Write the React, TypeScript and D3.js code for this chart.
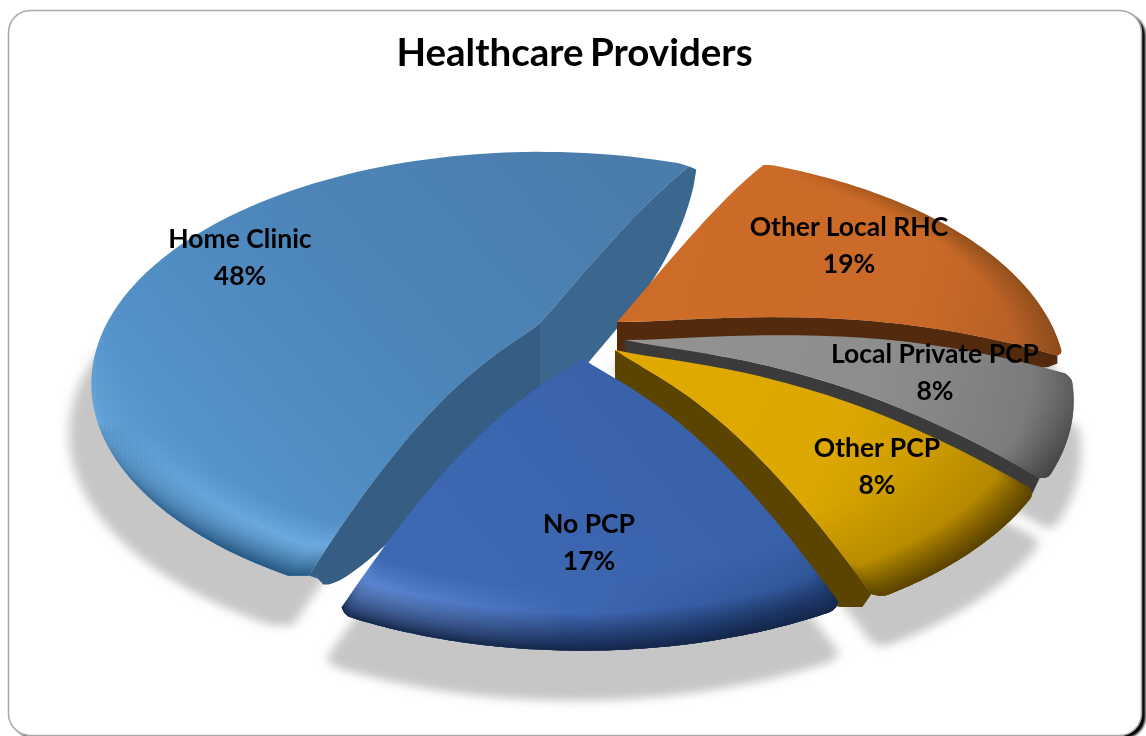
import React from "react";
import * as d3 from "d3";

// ---- data ----
const categories = ["Other Local RHC", "Local Private PCP", "Other PCP", "No PCP", "Home Clinic"];
const percentages = [19, 8, 8, 17, 48];
const chartTitle = "Healthcare Providers";

// ---- layout / style ----
const W = 1146, H = 736;
const apexes = [[617, 322], [625, 340], [615, 350], [582, 358], [540, 323]];
const labelAnchors = [[849, 236], [935, 363], [877, 457], [589, 533], [240, 248]];
const wallColors = ["#542a0f", "#3b3b3b", "#5b4300", "#000", "#3b668d"];
const wallColorAlt = "#365d83";
const drawOrder = [4, 0, 1, 2, 3];
// boundaries of the pie as laid out → as seen after the 3D view's distortion
const warp = d3.scaleLinear().domain([25, 93.4, 122.2, 151, 212.2, 385]).range([25, 99, 124, 152.5, 205.5, 385]);
const cornerNudges = [[0, 0], [0, 0], [0, 0], [0, 0], [-1.1, 0.5]];

const A = 433, B = 216, K = 0.262;
const rad = (d: number) => (d * Math.PI) / 180;
const project = (apex: number[], r: number, deg: number): [number, number] => {
  const a = rad(deg);
  const X = r * Math.sin(a), Y = r * Math.cos(a), w = 1 + K * Y;
  const bow = (19 - 13 * Math.cos(a)) * 4.83 * Math.pow(r, 1.3) * (1 - r);
  return [apex[0] + (A * X) / w, apex[1] - (B * Y) / w - bow];
};
const line = d3.line();

const arcs = d3.pie<number>().sort(null).startAngle(rad(25)).endAngle(rad(385))(percentages).map((d, i) => ({
  a0: warp((d.startAngle * 180) / Math.PI) + cornerNudges[i][0],
  a1: warp((d.endAngle * 180) / Math.PI) + cornerNudges[i][1],
}));
const angles = (a0: number, a1: number) => d3.range(0, 1.0001, 1 / 90).map((t) => a0 + (a1 - a0) * t);

// the rim curls in slightly at the two corners of a slice
const CORNER_DEG = 1.6, CORNER_R = 0.012;
const rim = (i: number, a: number) => {
  const dist = Math.min(a - arcs[i].a0, arcs[i].a1 - a);
  const t = Math.max(0, 1 - dist / CORNER_DEG);
  return 1 - CORNER_R * t * t;
};

const topPath = (i: number) => {
  const { a0, a1 } = arcs[i];
  const ap = apexes[i];
  const rs = d3.range(0, 1.0001, 0.05).map((r) => r * (1 - CORNER_R));
  return line([
    ...rs.map((r) => project(ap, r, a0)),
    ...angles(a0, a1).map((a) => project(ap, rim(i, a), a)),
    ...rs.slice().reverse().map((r) => project(ap, r, a1)),
  ]) + "Z";
};
const bandPath = (i: number, width: number) => {
  const { a0, a1 } = arcs[i];
  const ap = apexes[i];
  const as = angles(a0, a1);
  return line([
    ...as.map((a) => project(ap, rim(i, a), a)),
    ...as.slice().reverse().map((a) => project(ap, rim(i, a) - width, a)),
  ]) + "Z";
};
const wallPath = (i: number, deg: number, h: number, h0: number, e: number, dx: number, tip?: [number, number]) => {
  const ap = apexes[i];
  const rs = d3.range(0, 1.0001, 0.02);
  const upper = rs.map((r) => project(ap, r * (1 - CORNER_R), deg));
  const lower = rs.map((r, j) => [
    upper[j][0] + dx * r * r * r,
    upper[j][1] + h0 + (h - h0) * Math.pow(Math.max(0, 1 - Math.pow(r, e)), 0.7),
  ] as [number, number]);
  const end = upper[upper.length - 1];
  const tipPts: [number, number][] = tip ? [[end[0] + tip[0], end[1] + tip[1]]] : [];
  return line([...upper, ...tipPts, ...lower.reverse()]) + "Z";
};

const walls = [
  (i: number) => [{ d: wallPath(i, arcs[i].a1, 36, 8, 6, 0), c: wallColors[i] }],
  (i: number) => [{ d: wallPath(i, arcs[i].a1, 23, 17, 12, -8), c: wallColors[i] }],
  (i: number) => [{ d: wallPath(i, arcs[i].a1, 40, 13, 8, -32, [-9, 13]), c: wallColors[i] }],
  () => [],
  (i: number) => [
    { d: wallPath(i, arcs[i].a1, 95, 3, 4, 7), c: wallColors[i] },
    { d: wallPath(i, arcs[i].a0, 95, 3, 4, 9), c: wallColorAlt },
  ],
];

const topFills = ["url(#topRhc)", "url(#topPriv)", "url(#topOther)", "url(#topNo)", "url(#topHome)"];

type Band = { fill: string; width: number; alpha: number };
const bands: Band[][] = [
  [{ fill: "url(#bRhc)", width: 0.1, alpha: 0.8 }],
  [{ fill: "url(#bPriv)", width: 0.09, alpha: 0.9 }],
  [{ fill: "url(#bOther2)", width: 0.2, alpha: 0.5 }, { fill: "url(#bOther)", width: 0.07, alpha: 0.97 }],
  [
    { fill: "url(#bNoBright)", width: 0.12, alpha: 0.98 },
    { fill: "url(#bNoBroad)", width: 0.16, alpha: 0.6 },
    { fill: "url(#bNoDark)", width: 0.07, alpha: 0.98 },
  ],
  [{ fill: "url(#bHomeBright)", width: 0.12, alpha: 0.97 }, { fill: "url(#bHomeDark)", width: 0.065, alpha: 0.95 }],
];
const LAYERS = 16;
// per-layer opacity that makes the stacked opacity rise linearly towards the rim
const layerOpacity = (m: number, total: number) => {
  const prev = (total * (m - 1)) / LAYERS, cur = (total * m) / LAYERS;
  return 1 - (1 - cur) / (1 - prev);
};

const grad = (id: string, x1: number, y1: number, x2: number, y2: number, stops: [number, string, number?][]) => (
  <linearGradient key={id} id={id} gradientUnits="userSpaceOnUse" x1={x1} y1={y1} x2={x2} y2={y2}>
    {stops.map(([o, c, op], k) => (
      <stop key={k} offset={o} stopColor={c} stopOpacity={op ?? 1} />
    ))}
  </linearGradient>
);

export default function App() {
  return (
    <svg width={W} height={H} viewBox={`0 0 ${W} ${H}`} style={{ position: "fixed", left: 0, top: 0, display: "block" }}>
      <defs>
        <filter id="frameBlur" x="-5%" y="-5%" width="110%" height="110%"><feGaussianBlur stdDeviation="1.3" /></filter>
        <filter id="shadowBlur" x="-10%" y="-10%" width="120%" height="120%"><feGaussianBlur stdDeviation="5" /></filter>
        {grad("topHome", 620, 170, 180, 560, [[0, "#4a7cab"], [0.5, "#4d86ba"], [1, "#5799d2"]])}
        {grad("topRhc", 700, 250, 1060, 340, [[0, "#cd6b28"], [0.6, "#cb6a28"], [1, "#ae5c25"]])}
        {grad("topPriv", 640, 340, 1070, 440, [[0, "#939393"], [0.55, "#8d8d8d"], [1, "#757575"]])}
        {grad("topOther", 680, 400, 980, 570, [[0, "#dfa900"], [0.45, "#dca700"], [1, "#b98c00"]])}
        {grad("topNo", 500, 620, 760, 400, [[0, "#3e68b3"], [1, "#3860a8"]])}
        {grad("bHomeBright", 0, 300, 0, 565, [[0, "#8ccaff", 0], [0.5, "#8ccaff", 0.12], [1, "#8ccaff", 1]])}
        {grad("bHomeDark", 0, 420, 0, 560, [[0, "#24557f", 0], [1, "#24557f", 1]])}
        {grad("bNoBright", 345, 0, 570, 0, [[0, "#84aefa", 1], [1, "#84aefa", 0]])}
        {grad("bNoBroad", 580, 0, 840, 0, [[0, "#1c3a72", 0], [1, "#1c3a72", 1]])}
        {grad("bNoDark", 345, 0, 640, 0, [[0, "#14264a", 0.85], [1, "#14264a", 1]])}
        {grad("bOther", 0, 0, 1, 0, [[0, "#5a4300", 1], [1, "#5a4300", 1]])}
        {grad("bOther2", 860, 600, 940, 500, [[0, "#8f6c00", 1], [1, "#8f6c00", 0.6]])}
        {grad("bPriv", 1060, 390, 1040, 480, [[0, "#4d4d4d", 0.45], [1, "#3f3f3f", 1]])}
        {grad("bRhc", 780, 160, 960, 230, [[0, "#8a4a1a", 0], [1, "#8a4a1a", 1]])}
      </defs>

      {/* frame */}
      <rect x={12.5} y={13.5} width={1133} height={725} rx={22} fill="#000" filter="url(#frameBlur)" />
      <rect x={8.5} y={10.5} width={1133} height={725} rx={22} fill="#fff" stroke="#a9a9a9" strokeWidth={1.6} />

      <text x={574.5} y={66} textAnchor="middle" fontFamily="Lato" fontWeight={700} fontSize={38.5} wordSpacing={-3} fill="#000">
        {chartTitle}
      </text>

      {/* shadow */}
      <g transform="translate(-25,50) scale(1.03,1)" filter="url(#shadowBlur)" fill="#c6c6c6">
        {percentages.map((_, i) => <path key={i} d={topPath(i)} />)}
      </g>

      {/* slices */}
      {drawOrder.map((i) => (
        <g key={categories[i]}>
          {walls[i](i).map((w, k) => <path key={k} d={w.d} fill={w.c} />)}
          <path d={topPath(i)} fill={topFills[i]} />
          {bands[i].map((b, bi) =>
            d3.range(1, LAYERS + 1).map((m) => (
              <path
                key={`${bi}-${m}`}
                d={bandPath(i, (b.width * (LAYERS + 1 - m)) / LAYERS)}
                fill={b.fill}
                fillOpacity={layerOpacity(m, b.alpha)}
              />
            ))
          )}
        </g>
      ))}

      {/* labels */}
      {categories.map((c, i) => (
        <text key={c} x={labelAnchors[i][0]} fontFamily="Lato" fontWeight={700} fontSize={26.5} textAnchor="middle" fill="#000">
          <tspan x={labelAnchors[i][0]} y={labelAnchors[i][1]}>{c}</tspan>
          <tspan x={labelAnchors[i][0]} y={labelAnchors[i][1] + 36.5}>{percentages[i]}%</tspan>
        </text>
      ))}
    </svg>
  );
}
